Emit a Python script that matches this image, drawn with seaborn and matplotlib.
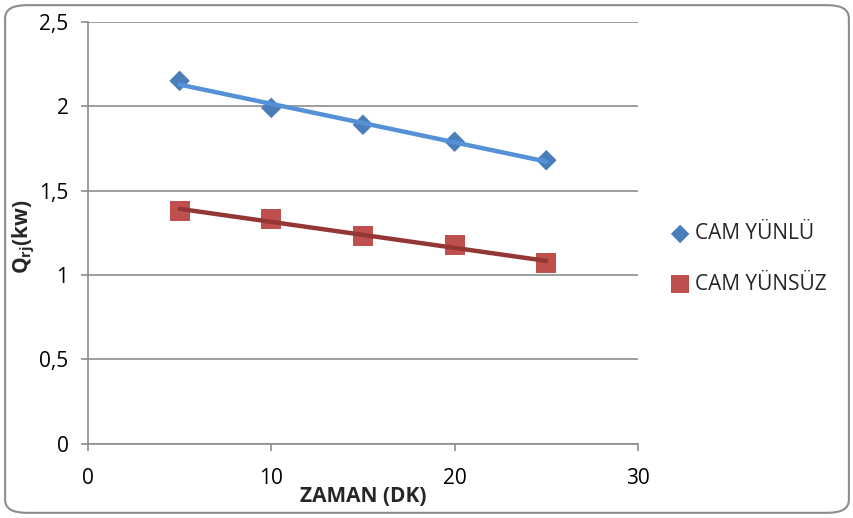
import pandas as pd
import numpy as np
import matplotlib
matplotlib.use("Agg")
import matplotlib.pyplot as plt
import seaborn as sns
from matplotlib.patches import FancyBboxPatch
from matplotlib.ticker import FuncFormatter

# Values
zaman = [5, 10, 15, 20, 25]
cam_yunlu = [2.15, 1.99, 1.89, 1.79, 1.68]
cam_yunsuz = [1.38, 1.33, 1.23, 1.18, 1.07]

df = pd.DataFrame({"ZAMAN": zaman, "CAM YÜNLÜ": cam_yunlu, "CAM YÜNSÜZ": cam_yunsuz})

sns.set_style("white")
plt.rcParams["font.family"] = ["Open Sans", "DejaVu Sans"]
plt.rcParams["mathtext.fontset"] = "custom"
plt.rcParams["mathtext.bf"] = "Open Sans:bold"
plt.rcParams["mathtext.rm"] = "Open Sans"

fig = plt.figure(figsize=(8.54, 5.18), dpi=100)
ax = fig.add_axes([0.103, 0.143, 0.644, 0.815])

# outer rounded frame
fig.patches.append(FancyBboxPatch((0.006, 0.01), 0.988, 0.98, boxstyle="round,pad=0,rounding_size=0.025",
                                  transform=fig.transFigure, fill=False, edgecolor="#8c8c8c", linewidth=1.5))

# trendlines (linear fit)
sns.regplot(data=df, x="ZAMAN", y="CAM YÜNLÜ", scatter=False, ci=None, ax=ax,
            line_kws=dict(color="#5591D6", linewidth=3.2, zorder=3))
sns.regplot(data=df, x="ZAMAN", y="CAM YÜNSÜZ", scatter=False, ci=None, ax=ax,
            line_kws=dict(color="#943634", linewidth=3.2, zorder=3))

sns.scatterplot(data=df, x="ZAMAN", y="CAM YÜNLÜ", marker="D", s=110, color="#4A7EBB",
                edgecolor="none", label="CAM YÜNLÜ", ax=ax, zorder=2)
sns.scatterplot(data=df, x="ZAMAN", y="CAM YÜNSÜZ", marker="s", s=210, color="#C0504D",
                edgecolor="none", label="CAM YÜNSÜZ", ax=ax, zorder=2)

ax.set_xlim(0, 30)
ax.set_ylim(0, 2.5)
ax.set_xticks([0, 10, 20, 30])
ax.set_yticks(np.arange(0, 2.51, 0.5))
ax.yaxis.set_major_formatter(FuncFormatter(lambda v, p: f"{v:g}".replace(".", ",")))
ax.yaxis.grid(True, color="#8c8c8c", linewidth=1.2)
ax.xaxis.grid(False)
ax.set_axisbelow(True)

for s in ["top", "right"]:
    ax.spines[s].set_visible(False)
for s in ["left", "bottom"]:
    ax.spines[s].set_color("#8c8c8c")
    ax.spines[s].set_linewidth(1.2)
ax.tick_params(axis="both", which="major", direction="out", length=5, width=1.2,
               color="#8c8c8c", labelsize=15, labelcolor="black", left=True, bottom=True)
ax.tick_params(axis="x", pad=12)
ax.tick_params(axis="y", pad=9)

ax.set_xlabel("ZAMAN (DK)", fontsize=15, fontweight="bold", labelpad=-2)
ax.set_ylabel(r"$\mathbf{Q_{rj}(kw)}$", fontsize=15)
ax.yaxis.set_label_coords(-0.093, 0.49)

ax.legend(loc="center left", bbox_to_anchor=(0.772, 0.50), bbox_transform=fig.transFigure,
          frameon=False, fontsize=15, handlelength=1.0, handletextpad=0.2,
          labelspacing=1.4, borderpad=0, markerscale=0.9)

fig.savefig("out.png", dpi=100)
